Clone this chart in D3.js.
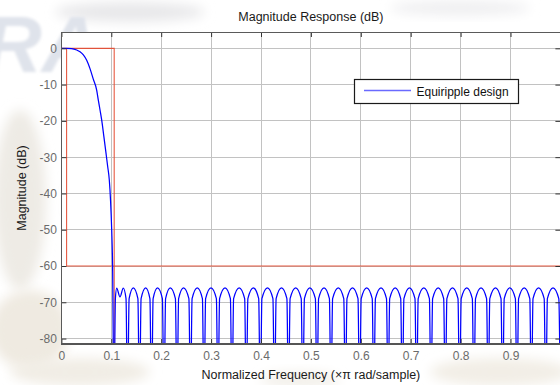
<!DOCTYPE html>
<html>
<head>
<meta charset="utf-8">
<script src="https://cdn.jsdelivr.net/npm/d3@7"></script>
<style>
  html, body { margin: 0; padding: 0; background: #fff; }
  svg { display: block; font-family: "Liberation Sans", Arial, Helvetica, sans-serif; }
</style>
</head>
<body>
<svg id="chart" width="560" height="385"></svg>
<script>
// ---- Axis setup ----
const xTickValues = [0, 0.1, 0.2, 0.3, 0.4, 0.5, 0.6, 0.7, 0.8, 0.9, 1];
const xTickLabels = ["0", "0.1", "0.2", "0.3", "0.4", "0.5", "0.6", "0.7", "0.8", "0.9", ""];
const yTickValues = [0, -10, -20, -30, -40, -50, -60, -70, -80];
const yTickLabels = ["0", "-10", "-20", "-30", "-40", "-50", "-60", "-70", "-80"];
const xLimits = [0, 1];
const yLimits = [-81.5, 4.5];

// ---- Magnitude response of the equiripple lowpass, [normalized freq, dB] ----
const passbandResponse = [
  [0.0000, 0], [0.0100, 0], [0.0200, -0.05], [0.0307, -0.45], [0.0373, -0.95],
  [0.0440, -1.8], [0.0507, -3.3], [0.0573, -5.6], [0.0639, -8.5], [0.0707, -11.5],
  [0.0739, -14.2], [0.0774, -17.0], [0.0808, -19.8], [0.0850, -24.2], [0.0894, -28.9],
  [0.0927, -32.5], [0.0960, -36.3], [0.0985, -42.0], [0.1008, -50.0], [0.1026, -60.0]
];

// stopband lobes: null, left shoulder, peak, right shoulder, ... (nulls lie far below the axis floor)
const stopbandResponse = [
  [0.1054, -100], [0.1082, -69], [0.1108, -66.1], [0.1174, -68.5], [0.1240, -66.1], [0.1295, -69],
  [0.1325, -100], [0.1357, -69], [0.1441, -66], [0.1533, -69],
  [0.1565, -100], [0.1597, -69], [0.1689, -66], [0.1774, -69],
  [0.1806, -100], [0.1838, -69], [0.1926, -66], [0.2024, -69],
  [0.2056, -100], [0.2088, -69], [0.2182, -66], [0.2285, -69],
  [0.2317, -100], [0.2349, -69], [0.2447, -66], [0.2555, -69],
  [0.2587, -100], [0.2619, -69], [0.2723, -66], [0.2826, -69],
  [0.2858, -100], [0.2890, -69], [0.2998, -66], [0.3106, -69],
  [0.3138, -100], [0.3170, -69], [0.3279, -66], [0.3387, -69],
  [0.3419, -100], [0.3451, -69], [0.3563, -66], [0.3673, -69],
  [0.3705, -100], [0.3737, -69], [0.3846, -66], [0.3954, -69],
  [0.3986, -100], [0.4018, -69], [0.4130, -66], [0.4239, -69],
  [0.4271, -100], [0.4303, -69], [0.4411, -66], [0.4519, -69],
  [0.4551, -100], [0.4583, -69], [0.4695, -66], [0.4806, -69],
  [0.4838, -100], [0.4870, -69], [0.4978, -66], [0.5090, -69],
  [0.5122, -100], [0.5154, -69], [0.5263, -66], [0.5371, -69],
  [0.5403, -100], [0.5435, -69], [0.5549, -66], [0.5659, -69],
  [0.5691, -100], [0.5723, -69], [0.5834, -66], [0.5944, -69],
  [0.5976, -100], [0.6008, -69], [0.6118, -66], [0.6229, -69],
  [0.6261, -100], [0.6293, -69], [0.6405, -66], [0.6515, -69],
  [0.6547, -100], [0.6579, -69], [0.6689, -66], [0.6800, -69],
  [0.6832, -100], [0.6864, -69], [0.6976, -66], [0.7086, -69],
  [0.7118, -100], [0.7150, -69], [0.7263, -66], [0.7375, -69],
  [0.7407, -100], [0.7439, -69], [0.7551, -66], [0.7661, -69],
  [0.7693, -100], [0.7725, -69], [0.7838, -66], [0.7948, -69],
  [0.7980, -100], [0.8012, -69], [0.8124, -66], [0.8235, -69],
  [0.8267, -100], [0.8299, -69], [0.8409, -66], [0.8521, -69],
  [0.8553, -100], [0.8585, -69], [0.8699, -66], [0.8810, -69],
  [0.8842, -100], [0.8874, -69], [0.8986, -66], [0.9098, -69],
  [0.9130, -100], [0.9162, -69], [0.9275, -66], [0.9387, -69],
  [0.9419, -100], [0.9451, -69], [0.9563, -66], [0.9675, -69],
  [0.9707, -100], [0.9739, -69], [0.9852, -66], [0.9968, -69],
  [1.0000, -100]
];

// ---- Specification mask ----
const maskPassband = [[0, 0], [0.1058, 0], [0.1058, -100]];
const maskStopband = [[0.0104, 0], [0.0104, -60], [1, -60]];

const legendLabel = "Equiripple design";
const titleText = "Magnitude Response (dB)";
const xLabelText = "Normalized Frequency (\u00D7\u03C0 rad/sample)";
const yLabelText = "Magnitude (dB)";

// ---- Drawing ----
const svg = d3.select("#chart");
const W = 560, H = 385;
const box = { left: 61.4, right: 560.4, top: 32, bottom: 344 };

const x = d3.scaleLinear().domain(xLimits).range([box.left, box.right]);
const y = d3.scaleLinear().domain(yLimits).range([box.bottom, box.top]);

const defs = svg.append("defs");
defs.append("filter").attr("id", "soft").attr("x", "-50%").attr("y", "-50%")
  .attr("width", "200%").attr("height", "200%")
  .append("feGaussianBlur").attr("stdDeviation", 6);
defs.append("filter").attr("id", "softText")
  .append("feGaussianBlur").attr("stdDeviation", 1.4);
defs.append("clipPath").attr("id", "plotClip")
  .append("rect")
  .attr("x", box.left).attr("y", box.top)
  .attr("width", box.right - box.left).attr("height", box.bottom - box.top);

// faint paper texture behind the figure
const bg = svg.append("g");
bg.append("rect").attr("width", W).attr("height", H).attr("fill", "#ffffff");
const blots = [
  { cx: 20, cy: 200, rx: 26, ry: 90, c: "#eeebe5" },
  { cx: 30, cy: 330, rx: 40, ry: 40, c: "#efeae1" },
  { cx: 80, cy: 372, rx: 70, ry: 14, c: "#f1ede5" },
  { cx: 500, cy: 372, rx: 70, ry: 14, c: "#f2eee6" },
  { cx: 130, cy: 12, rx: 75, ry: 10, c: "#e8e8ea" },
  { cx: 460, cy: 8, rx: 70, ry: 7, c: "#eeeef0" },
  { cx: 300, cy: 380, rx: 40, ry: 8, c: "#f3f0ea" }
];
bg.selectAll("ellipse").data(blots).join("ellipse")
  .attr("cx", d => d.cx).attr("cy", d => d.cy)
  .attr("rx", d => d.rx).attr("ry", d => d.ry)
  .attr("fill", d => d.c).attr("filter", "url(#soft)");
bg.append("text")
  .attr("x", -16).attr("y", 72)
  .attr("font-size", 80).attr("font-weight", "bold").attr("font-style", "italic")
  .attr("fill", "#dfe3eb").attr("filter", "url(#softText)")
  .text("RA");

// plot area
svg.append("rect")
  .attr("x", box.left).attr("y", box.top)
  .attr("width", box.right - box.left).attr("height", box.bottom - box.top)
  .attr("fill", "#ffffff");

// grid
const grid = svg.append("g").attr("stroke", "#c2c2c2").attr("stroke-width", 1).attr("shape-rendering", "crispEdges");
grid.selectAll(".gx").data(xTickValues.filter(v => v > xLimits[0] && v < xLimits[1])).join("line")
  .attr("x1", d => x(d)).attr("x2", d => x(d))
  .attr("y1", box.top).attr("y2", box.bottom);
grid.selectAll(".gy").data(yTickValues).join("line")
  .attr("y1", d => y(d)).attr("y2", d => y(d))
  .attr("x1", box.left).attr("x2", box.right);

// data layer
const plotG = svg.append("g").attr("clip-path", "url(#plotClip)");

const maskLine = d3.line().x(d => x(d[0])).y(d => y(d[1]));
[maskPassband, maskStopband].forEach(seg => {
  plotG.append("path")
    .attr("d", maskLine(seg))
    .attr("fill", "none")
    .attr("stroke", "#e4472c")
    .attr("stroke-width", 1.1)
    .attr("stroke-opacity", 0.9);
});

const responseLine = d3.line()
  .x(d => x(d[0])).y(d => y(d[1]))
  .curve(d3.curveMonotoneX);
plotG.append("path")
  .attr("d", responseLine(passbandResponse.concat(stopbandResponse)))
  .attr("fill", "none")
  .attr("stroke", "#0000ff")
  .attr("stroke-width", 1.25)
  .attr("stroke-linejoin", "round");

// axes: tick labels + inward ticks
const tickColor = "#333";
const labelColor = "#6b6b6b";

const xAxisB = d3.axisBottom(x).tickValues(xTickValues)
  .tickFormat((d, i) => xTickLabels[i]).tickSize(-5).tickPadding(7.5);
const gxb = svg.append("g").attr("transform", `translate(0,${box.bottom})`).call(xAxisB);
const xAxisT = d3.axisTop(x).tickValues(xTickValues).tickFormat("").tickSize(-5);
const gxt = svg.append("g").attr("transform", `translate(0,${box.top})`).call(xAxisT);
const yAxisL = d3.axisLeft(y).tickValues(yTickValues)
  .tickFormat((d, i) => yTickLabels[i]).tickSize(-5).tickPadding(4.5);
const gyl = svg.append("g").attr("transform", `translate(${box.left},0)`).call(yAxisL);
const yAxisR = d3.axisRight(y).tickValues(yTickValues).tickFormat("").tickSize(-5);
const gyr = svg.append("g").attr("transform", `translate(${box.right},0)`).call(yAxisR);

[gxb, gxt, gyl, gyr].forEach(g => {
  g.select(".domain").remove();
  g.selectAll(".tick line").attr("stroke", tickColor).attr("stroke-width", 1);
  g.selectAll(".tick text")
    .attr("fill", labelColor)
    .attr("font-size", 12)
    .attr("font-family", "'Liberation Sans', Arial, sans-serif");
});

// axes box
const frame = svg.append("g").attr("fill", "none").attr("shape-rendering", "crispEdges");
frame.append("line").attr("x1", box.left).attr("x2", box.right).attr("y1", box.top).attr("y2", box.top)
  .attr("stroke", "#5a5a5a");
frame.append("line").attr("x1", box.right).attr("x2", box.right).attr("y1", box.top).attr("y2", box.bottom)
  .attr("stroke", "#5a5a5a");
frame.append("line").attr("x1", box.left).attr("x2", box.left).attr("y1", box.top).attr("y2", box.bottom)
  .attr("stroke", "#5a5a5a");
frame.append("line").attr("x1", box.left).attr("x2", box.right).attr("y1", box.bottom).attr("y2", box.bottom)
  .attr("stroke", "#555").attr("stroke-width", 2);

// title and axis labels
svg.append("text")
  .attr("x", (box.left + box.right) / 2).attr("y", 21)
  .attr("text-anchor", "middle").attr("font-size", 12.5).attr("fill", "#1a1a1a")
  .text(titleText);
svg.append("text")
  .attr("x", (box.left + box.right) / 2).attr("y", 379)
  .attr("text-anchor", "middle").attr("font-size", 12.5).attr("fill", "#1a1a1a")
  .text(xLabelText);
svg.append("text")
  .attr("transform", `translate(26,${(box.top + box.bottom) / 2}) rotate(-90)`)
  .attr("text-anchor", "middle").attr("font-size", 12.5).attr("fill", "#1a1a1a")
  .text(yLabelText);

// legend
const lg = svg.append("g");
lg.append("rect")
  .attr("x", 354.5).attr("y", 79.5).attr("width", 164).attr("height", 24)
  .attr("fill", "#ffffff").attr("stroke", "#1a1a1a").attr("stroke-width", 1.2);
lg.append("line")
  .attr("x1", 364).attr("x2", 411).attr("y1", 90.5).attr("y2", 90.5)
  .attr("stroke", "#6a6aff").attr("stroke-width", 1.5);
lg.append("text")
  .attr("x", 416.5).attr("y", 96)
  .attr("font-size", 12).attr("fill", "#111")
  .text(legendLabel);
</script>
</body>
</html>
